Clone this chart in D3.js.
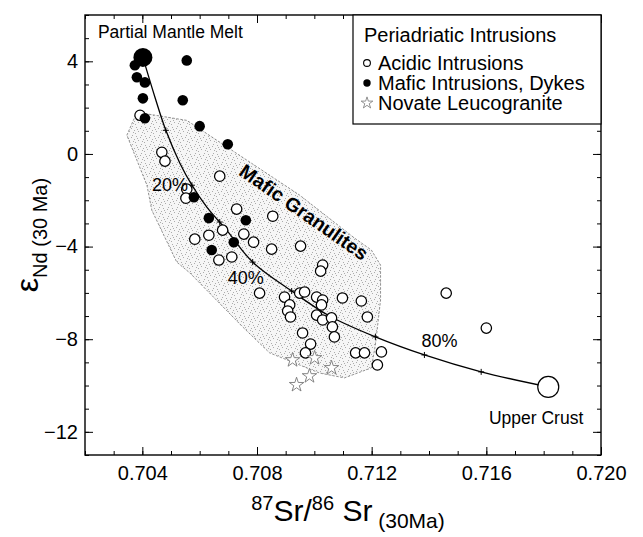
<!DOCTYPE html>
<html><head><meta charset="utf-8">
<script src="https://cdn.jsdelivr.net/npm/d3@7"></script>
<style>
body{margin:0;background:#fff}
svg{display:block}
text{font-family:"Liberation Sans",Arial,Helvetica,sans-serif;fill:#000}
</style>
</head><body>
<svg id="chart" width="643" height="537"></svg>
<script>
// ---------- data ----------
const xDomain = [0.702, 0.720];
const yDomain = [-13, 6];
const xTickLabels = [0.704, 0.708, 0.712, 0.716, 0.720];
const yTickLabels = [4, 0, -4, -8, -12];

const acidic = [
  [0.70392,1.67],[0.70468,0.07],[0.70479,-0.31],[0.70670,-0.96],[0.70555,-1.52],
  [0.70552,-1.91],[0.70729,-2.38],[0.70855,-2.69],[0.70680,-3.29],[0.70632,-3.51],
  [0.70583,-3.68],[0.70754,-3.46],[0.70788,-3.81],[0.70851,-4.11],[0.70952,-3.98],
  [0.70667,-4.58],[0.70712,-4.45],[0.71029,-4.80],[0.71022,-5.06],[0.70809,-6.01],
  [0.70896,-6.18],[0.70949,-6.01],[0.70966,-5.96],[0.70914,-6.52],[0.70907,-6.78],
  [0.70917,-7.04],[0.71008,-6.18],[0.71029,-6.31],[0.71025,-6.52],[0.71098,-6.22],
  [0.71164,-6.35],[0.71008,-6.96],[0.71029,-7.17],[0.71060,-7.08],[0.71063,-7.47],
  [0.71070,-7.90],[0.71185,-7.04],[0.70959,-7.73],[0.70987,-8.21],[0.70969,-8.59],
  [0.71144,-8.59],[0.71175,-8.59],[0.71234,-8.55],[0.71220,-9.11],[0.71460,-6.01],
  [0.71600,-7.52]
];
const mafic = [
  [0.70374,3.83],[0.70381,3.31],[0.70409,3.09],[0.70555,4.04],[0.70402,2.40],
  [0.70541,2.32],[0.70409,1.54],[0.70600,1.20],[0.70698,0.42],[0.70580,-1.87],
  [0.70632,-2.77],[0.70761,-2.86],[0.70719,-3.81],[0.70642,-4.15]
];
const novate = [
  [0.70924,-8.90],[0.71001,-8.81],[0.71060,-9.24],[0.70983,-9.59],[0.70938,-9.97]
];
const mantleMelt = [0.70402, 4.17];
const upperCrust = [0.71816, -10.06];
const mixingCurve = [
  [0.70402,4.17],[0.70444,2.45],[0.70482,1.02],[0.70531,-0.40],[0.70573,-1.35],
  [0.70625,-2.30],[0.70694,-3.29],[0.70785,-4.67],[0.70921,-5.92],[0.71053,-7.00],
  [0.71213,-7.90],[0.71384,-8.68],[0.71582,-9.41],[0.71816,-10.06]
];
const mixingTicks = [
  [0.70482,1.02],[0.70573,-1.35],[0.70670,-2.94],[0.70785,-4.67],[0.70921,-5.92],
  [0.71053,-7.00],[0.71213,-7.90],[0.71384,-8.68],[0.71582,-9.41]
];
const mixLabels = ["20%", "40%", "80%"];
const mixLabelAt = [[0.70573,-1.35],[0.70785,-4.67],[0.71384,-8.68]];
const granulites = [
  [0.70381,1.80],[0.70555,1.45],[0.70949,-1.78],[0.71140,-3.63],[0.71199,-4.15],
  [0.71231,-4.80],[0.71231,-6.31],[0.71213,-8.25],[0.71199,-9.24],[0.71105,-9.67],
  [0.71018,-9.46],[0.70844,-8.59],[0.70750,-7.47],[0.70566,-5.14],[0.70520,-4.67],
  [0.70433,-2.43],[0.70416,-1.35],[0.70346,0.81]
];
const legendTitle = "Periadriatic Intrusions";
const legendItems = ["Acidic Intrusions", "Mafic Intrusions, Dykes", "Novate Leucogranite"];

// ---------- layout ----------
const svg = d3.select("#chart");
const L = 85, R = 601, T = 15, B = 455;
const x = d3.scaleLinear().domain(xDomain).range([L, R]);
const y = d3.scaleLinear().domain(yDomain).range([B, T]);

// stipple pattern
const defs = svg.append("defs");
const pat = defs.append("pattern").attr("id","stip").attr("patternUnits","userSpaceOnUse")
  .attr("width",9).attr("height",9);
pat.append("rect").attr("width",9).attr("height",9).attr("fill","#f6f6f6");
[[1,1],[5,2],[3,5],[7,6],[0,7],[6,0],[2,3],[8,4]].forEach(p=>{
  pat.append("rect").attr("x",p[0]).attr("y",p[1]).attr("width",0.9).attr("height",0.9).attr("fill","#9a9a9a");
});

// granulite field
svg.append("path").datum(granulites)
  .attr("d", d3.line().x(d=>x(d[0])).y(d=>y(d[1])).curve(d3.curveLinearClosed))
  .attr("fill","url(#stip)").attr("stroke","#777").attr("stroke-width",0.8)
  .attr("stroke-dasharray","2.5,1.5");

// mixing curve
svg.append("path").datum(mixingCurve)
  .attr("d", d3.line().x(d=>x(d[0])).y(d=>y(d[1])).curve(d3.curveCatmullRom))
  .attr("fill","none").attr("stroke","#000").attr("stroke-width",1.3);
svg.selectAll(".mt").data(mixingTicks).join("path")
  .attr("transform", d=>`translate(${x(d[0])},${y(d[1])})`)
  .attr("d","M-3,0H3M0,-3V3").attr("stroke","#000").attr("stroke-width",1);

// axes frame
const g = svg.append("g");
const minorX = d3.range(0.702, 0.72001, 0.001).map(v=>+v.toFixed(3));
const minorY = d3.range(-13, 6.001, 1);
function addAxis(axisFn, scale, vals, size, transform, labels){
  const a = axisFn(scale).tickValues(vals).tickSize(-size).tickPadding(labels?7:0)
    .tickFormat(labels ? (axisFn===d3.axisBottom ? d3.format(".3f") : d3.format("d")) : "");
  const gg = g.append("g").attr("transform",transform).call(a);
  gg.select(".domain").remove();
  gg.selectAll("line").attr("stroke","#000").attr("stroke-width",1);
  return gg;
}
// bottom
addAxis(d3.axisBottom, x, minorX, 4, `translate(0,${B})`, false);
const xb = addAxis(d3.axisBottom, x, xTickLabels, 8, `translate(0,${B})`, true);
xb.selectAll("text").attr("font-size",20).attr("font-family","Liberation Sans, Arial, sans-serif").attr("dy","0.92em");
// top
addAxis(d3.axisTop, x, minorX, 4, `translate(0,${T})`, false);
addAxis(d3.axisTop, x, xTickLabels, 8, `translate(0,${T})`, false);
// left
addAxis(d3.axisLeft, y, minorY, 4, `translate(${L},0)`, false);
const yl = addAxis(d3.axisLeft, y, yTickLabels, 8, `translate(${L},0)`, true);
yl.selectAll("text").attr("font-size",20).attr("font-family","Liberation Sans, Arial, sans-serif");
// right
addAxis(d3.axisRight, y, minorY, 4, `translate(${R},0)`, false);
addAxis(d3.axisRight, y, yTickLabels, 8, `translate(${R},0)`, false);

svg.append("rect").attr("x",L).attr("y",T).attr("width",R-L).attr("height",B-T)
  .attr("fill","none").attr("stroke","#000").attr("stroke-width",1.4);

// points
svg.selectAll(".ac").data(acidic).join("circle")
  .attr("cx",d=>x(d[0])).attr("cy",d=>y(d[1])).attr("r",5.2)
  .attr("fill","#fff").attr("stroke","#000").attr("stroke-width",1.25);
svg.selectAll(".mf").data(mafic).join("circle")
  .attr("cx",d=>x(d[0])).attr("cy",d=>y(d[1])).attr("r",5.3).attr("fill","#000");
const star = d3.symbol().type(d3.symbolStar).size(65);
svg.selectAll(".nv").data(novate).join("path")
  .attr("transform",d=>`translate(${x(d[0])},${y(d[1])})`).attr("d",star)
  .attr("fill","#fff").attr("stroke","#777").attr("stroke-width",0.9);
svg.append("circle").attr("cx",x(mantleMelt[0])).attr("cy",y(mantleMelt[1])).attr("r",9.5).attr("fill","#000");
svg.append("circle").attr("cx",x(upperCrust[0])).attr("cy",y(upperCrust[1])).attr("r",10.5)
  .attr("fill","#fff").attr("stroke","#000").attr("stroke-width",1.2);

// annotations
svg.append("text").attr("x",x(mantleMelt[0])-45).attr("y",y(mantleMelt[1])-19)
  .attr("font-size",17.5).text("Partial Mantle Melt");
svg.append("text").attr("x",x(upperCrust[0])+35).attr("y",y(upperCrust[1])+37)
  .attr("font-size",17.5).attr("text-anchor","end").text("Upper Crust");
svg.append("text").attr("x",x(mixLabelAt[0][0])-4).attr("y",y(mixLabelAt[0][1])+6)
  .attr("font-size",18).attr("text-anchor","end").text(mixLabels[0]);
svg.append("text").attr("x",x(mixLabelAt[1][0])-25).attr("y",y(mixLabelAt[1][1])+22)
  .attr("font-size",18).text(mixLabels[1]);
svg.append("text").attr("x",x(mixLabelAt[2][0])-3).attr("y",y(mixLabelAt[2][1])-8)
  .attr("font-size",18).text(mixLabels[2]);
svg.append("text").attr("transform",`translate(304,212) rotate(35)`)
  .attr("font-size",19.5).attr("font-weight","bold").attr("text-anchor","middle")
  .attr("dominant-baseline","central").text("Mafic Granulites");

// legend
const lg = svg.append("g");
lg.append("rect").attr("x",353).attr("y",T).attr("width",R-353).attr("height",109)
  .attr("fill","#fff").attr("stroke","#000").attr("stroke-width",1.2);
lg.append("text").attr("x",364).attr("y",42).attr("font-size",20).text(legendTitle);
legendItems.forEach((t,i)=>{
  const yy = 63 + i*20;
  lg.append("text").attr("x",378).attr("y",yy+7).attr("font-size",20).text(t);
  if(i===0) lg.append("circle").attr("cx",367).attr("cy",yy).attr("r",3.4).attr("fill","#fff").attr("stroke","#000").attr("stroke-width",1.1);
  if(i===1) lg.append("circle").attr("cx",367).attr("cy",yy).attr("r",3.7).attr("fill","#000");
  if(i===2) lg.append("path").attr("transform",`translate(367,${yy})`).attr("d",d3.symbol().type(d3.symbolStar).size(42))
    .attr("fill","#fff").attr("stroke","#777").attr("stroke-width",0.8);
});

// axis titles
const xt = svg.append("text").attr("x",348).attr("y",521).attr("text-anchor","middle").attr("font-size",30);
xt.append("tspan").attr("font-size",20).attr("dy",-11).text("87");
xt.append("tspan").attr("dy",11).text("Sr/");
xt.append("tspan").attr("font-size",20).attr("dy",-11).text("86");
xt.append("tspan").attr("dy",11).text(" Sr");
xt.append("tspan").attr("font-size",21).attr("dy",7).text(" (30Ma)");

const yt = svg.append("text").attr("transform",`translate(38,${(T+B)/2}) rotate(-90)`)
  .attr("text-anchor","middle").attr("font-size",32);
yt.append("tspan").text("ε");
yt.append("tspan").attr("font-size",20).attr("dy",9).text("Nd (30 Ma)");
</script>
</body></html>
